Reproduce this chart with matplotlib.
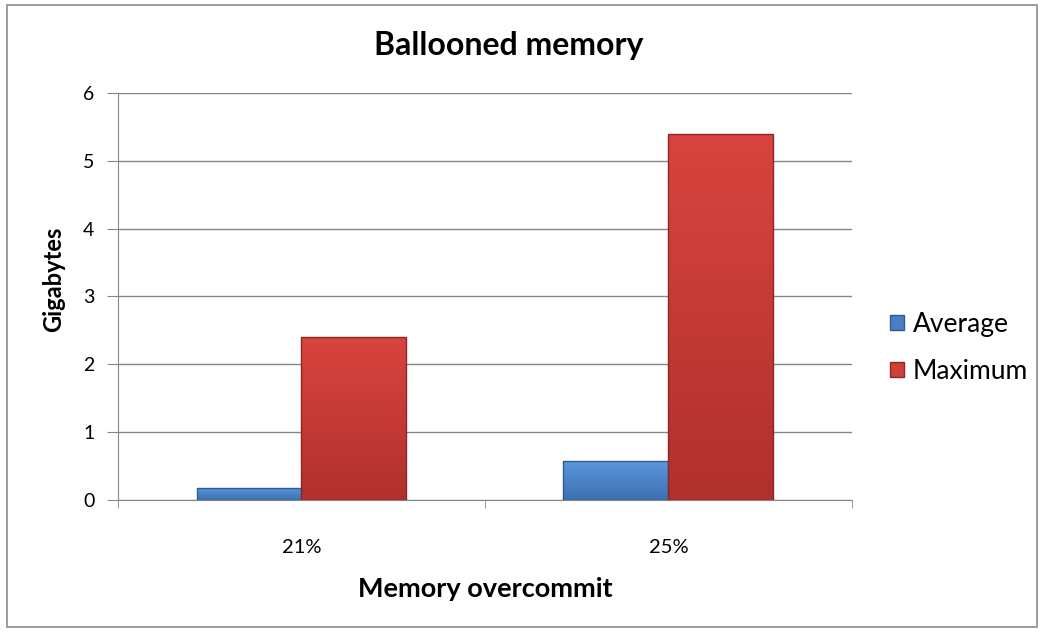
#
# Ballooned memory chart: average vs maximum per overcommit level
#

import numpy as np
import matplotlib.pyplot as plt
from matplotlib.patches import Rectangle
from matplotlib.colors import LinearSegmentedColormap

# Data
overcommit = ["21%", "25%"]
average = [0.17, 0.57]
maximum = [2.4, 5.4]

plt.rcParams['font.family'] = ['Lato', 'DejaVu Sans']

fig = plt.figure(figsize=(10.44, 6.32), dpi=100)
ax = fig.add_axes([0.113, 0.209, 0.703, 0.644])

# Outer chart frame
fig.patches.append(Rectangle((0.007, 0.008), 0.986, 0.984, transform=fig.transFigure,
                             fill=False, edgecolor="#8c8c8c", linewidth=1.2))


def shade(bars, top, bottom):
    # fill each bar with a soft top-to-bottom gradient
    cmap = LinearSegmentedColormap.from_list("g", [bottom, top])
    grad = np.linspace(1, 0, 256).reshape(-1, 1)
    for b in bars:
        x0, y0 = b.get_x(), b.get_y()
        w, h = b.get_width(), b.get_height()
        im = ax.imshow(grad, cmap=cmap, aspect="auto", zorder=3,
                       extent=[x0, x0 + w, y0, y0 + h], interpolation="bicubic")
        im.set_clip_path(b)


x = np.arange(len(overcommit))
width = 0.286
avg_bars = ax.bar(x - width / 2, average, width, color="#4a7fc4", edgecolor="#2f5b93",
                  linewidth=1.0, label="Average", zorder=4)
max_bars = ax.bar(x + width / 2, maximum, width, color="#cf3f3c", edgecolor="#8e2624",
                  linewidth=1.0, label="Maximum", zorder=4)
shade(avg_bars, "#5b96dc", "#3e70b0")
shade(max_bars, "#d9443f", "#b0302d")
for b in list(avg_bars) + list(max_bars):
    b.set_facecolor("none")

ax.set_xlim(-0.5, len(overcommit) - 0.5)
ax.set_ylim(0, 6)
ax.set_yticks(range(7))
ax.set_xticks(x)
ax.set_xticklabels(overcommit)
ax.set_xticks([-0.5, 0.5, 1.5], minor=True)
ax.tick_params(axis="x", which="major", length=0, pad=28, labelsize=14.5)
ax.tick_params(axis="x", which="minor", length=6, color="#868686")
ax.tick_params(axis="y", length=8, color="#868686", labelsize=14, pad=9)

ax.grid(axis="y", color="#868686", linewidth=1.0, zorder=0)
for side in ["top", "right"]:
    ax.spines[side].set_visible(False)
for side in ["left", "bottom"]:
    ax.spines[side].set_color("#868686")

fig.text(0.487, 1 - 45 / 632, "Ballooned memory", fontsize=23, fontweight="bold",
         ha="center", va="center")
fig.text(0.465, 1 - 589 / 632, "Memory overcommit", fontsize=19.5, fontweight="bold",
         ha="center", va="center")
fig.text(54 / 1044, 1 - 279 / 632, "Gigabytes", fontsize=17, fontweight="bold",
         ha="center", va="center", rotation=90)

leg = ax.legend(loc="center left", bbox_to_anchor=(1.02, 0.373), frameon=False,
                fontsize=19, handlelength=0.5, handleheight=0.5, handletextpad=0.35,
                labelspacing=0.85)
leg.legend_handles[0].set_facecolor("#4a7fc4")
leg.legend_handles[1].set_facecolor("#cf3f3c")

fig.savefig("out.png", dpi=100)
